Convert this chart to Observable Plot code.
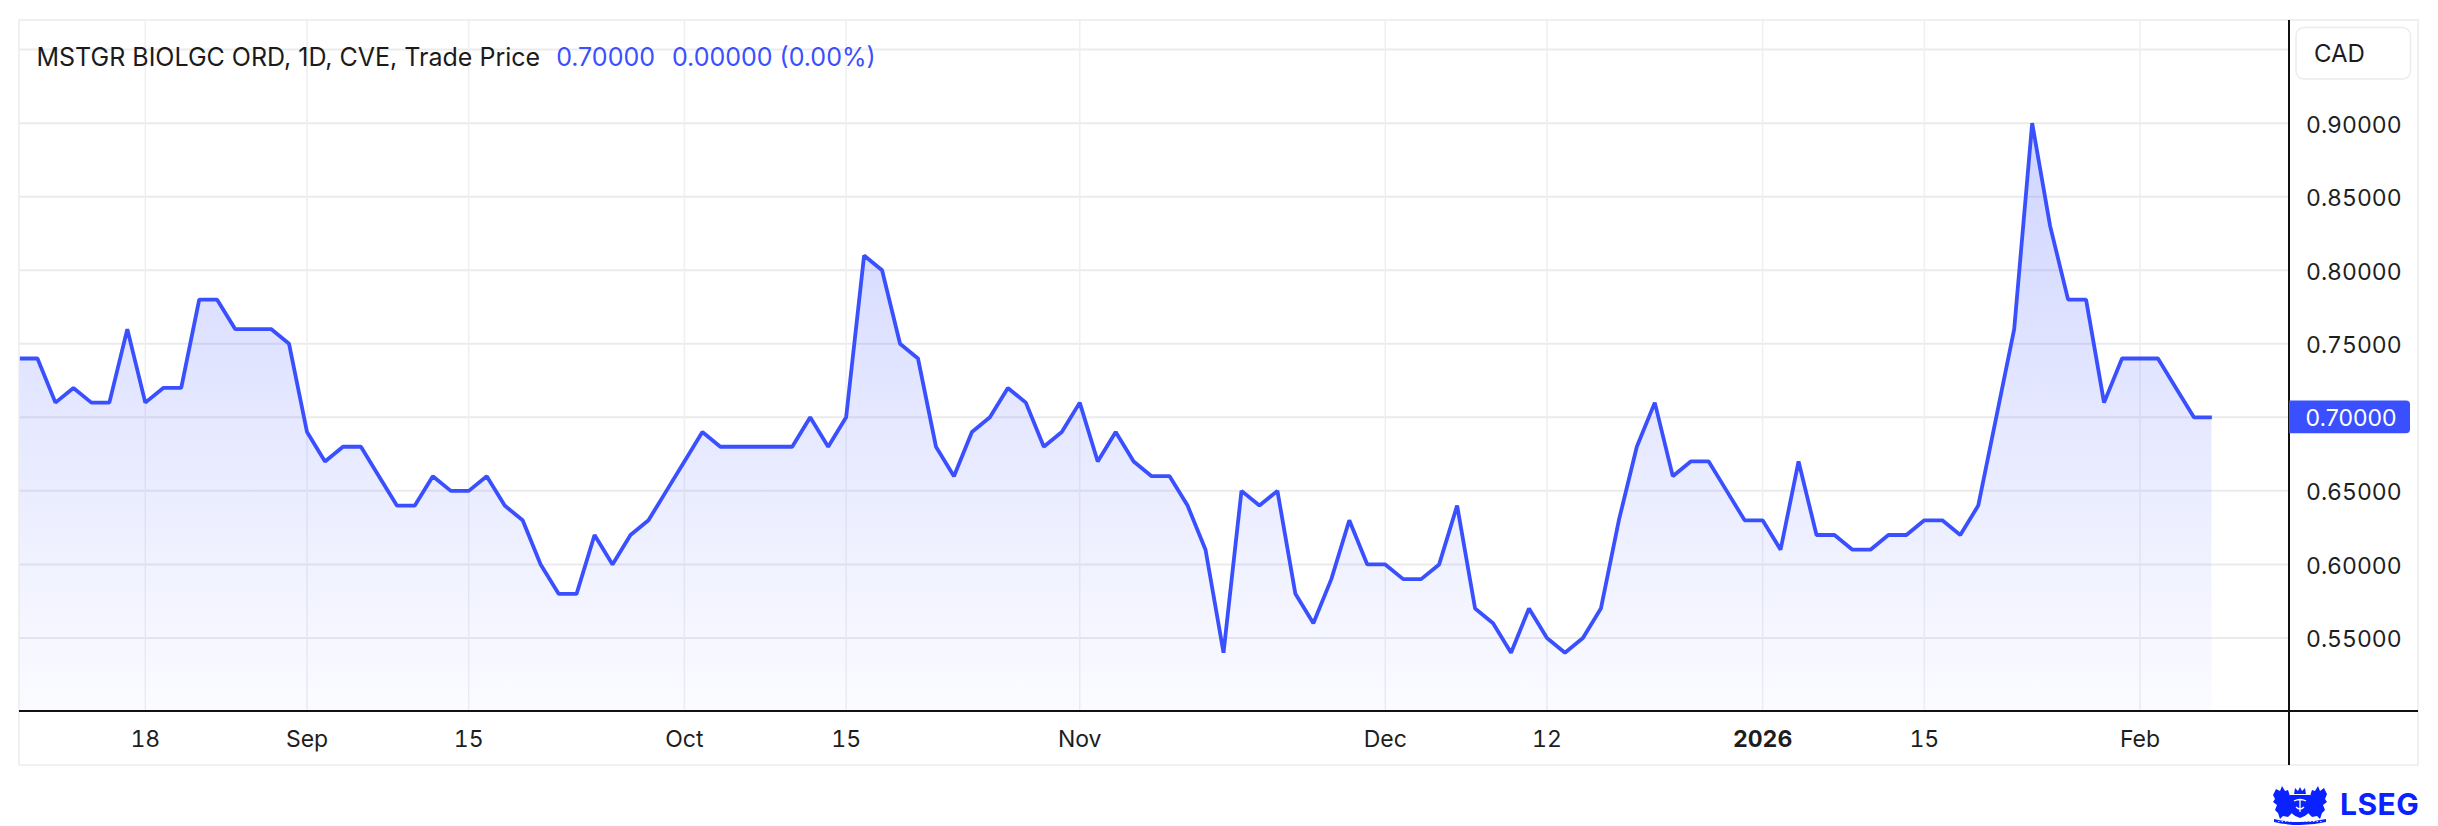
<!DOCTYPE html>
<html>
<head>
<meta charset="utf-8">
<script src="https://cdn.jsdelivr.net/npm/d3@7"></script>
<script src="https://cdn.jsdelivr.net/npm/@observablehq/plot@0.6"></script>
<style>
  html, body { margin: 0; padding: 0; background: #ffffff; overflow: hidden; }
  #chart { width: 2438px; height: 826px; }
</style>
</head>
<body>
<div id="chart"></div>
<script>
// ---- Data (daily closes, one per trading session) ----
const prices = [
  0.74, 0.74, 0.71, 0.72, 0.71, 0.71, 0.76, 0.71, 0.72, 0.72,
  0.78, 0.78, 0.76, 0.76, 0.76, 0.75, 0.69, 0.67, 0.68, 0.68,
  0.66, 0.64, 0.64, 0.66, 0.65, 0.65, 0.66, 0.64, 0.63, 0.60,
  0.58, 0.58, 0.62, 0.60, 0.62, 0.63, 0.65, 0.67, 0.69, 0.68,
  0.68, 0.68, 0.68, 0.68, 0.70, 0.68, 0.70, 0.81, 0.80, 0.75,
  0.74, 0.68, 0.66, 0.69, 0.70, 0.72, 0.71, 0.68, 0.69, 0.71,
  0.67, 0.69, 0.67, 0.66, 0.66, 0.64, 0.61, 0.54, 0.65, 0.64,
  0.65, 0.58, 0.56, 0.59, 0.63, 0.60, 0.60, 0.59, 0.59, 0.60,
  0.64, 0.57, 0.56, 0.54, 0.57, 0.55, 0.54, 0.55, 0.57, 0.63,
  0.68, 0.71, 0.66, 0.67, 0.67, 0.65, 0.63, 0.63, 0.61, 0.67,
  0.62, 0.62, 0.61, 0.61, 0.62, 0.62, 0.63, 0.63, 0.62, 0.64,
  0.70, 0.76, 0.90, 0.83, 0.78, 0.78, 0.71, 0.74, 0.74, 0.74,
  0.72, 0.70, 0.70
];
// session index at which each date label sits
const tickSessions = [7, 16, 25, 37, 46, 59, 76, 85, 97, 106, 118];
const tickLabels   = ["18", "Sep", "15", "Oct", "15", "Nov", "Dec", "12", "2026", "15", "Feb"];
const boldLabels   = ["2026"];
const yTicks = [0.55, 0.60, 0.65, 0.70, 0.75, 0.80, 0.85, 0.90];
const yGrid  = [0.55, 0.60, 0.65, 0.70, 0.75, 0.80, 0.85, 0.90, 0.95];
const titleText = "MSTGR BIOLGC ORD, 1D, CVE, Trade Price";
const lastPriceText = "0.70000";
const changeText = "0.00000";
const changePctText = "(0.00%)";
const currencyText = "CAD";
const brandText = "LSEG";

// ---- Build ----
const data = prices.map((price, session) => ({session, price}));
const lastPrice = prices[prices.length - 1];
const labelOf = new Map(tickSessions.map((s, k) => [s, tickLabels[k]]));
const normalTicks = tickSessions.filter(s => !boldLabels.includes(labelOf.get(s)));
const boldTicks = tickSessions.filter(s => boldLabels.includes(labelOf.get(s)));
// the last-price badge covers its own tick label
const axisTicks = yTicks.filter(v => Math.abs(v - lastPrice) > 1e-9);
const blue = "#3a50ff";
const W = 2438, H = 826;
const mL = 19, mR = 149, mT = 20, mB = 115;
const font = "Inter, 'Noto Sans', sans-serif";

const plot = Plot.plot({
  width: W, height: H,
  marginLeft: mL, marginRight: mR, marginTop: mT, marginBottom: mB,
  style: {fontFamily: font, fontSize: "23px", color: "#1e1e1e", background: "#ffffff", overflow: "visible"},
  x: {type: "linear", domain: [0, 126.32], axis: null},
  y: {domain: [0.50, 0.9698], axis: null},
  marks: [
    Plot.gridY(yGrid, {stroke: "#ebebeb", strokeOpacity: 1, strokeWidth: 2}),
    Plot.gridX(tickSessions, {stroke: "#efeff1", strokeOpacity: 1, strokeWidth: 1.5}),
    Plot.areaY(data, {x: "session", y: "price", fill: "url(#priceFill)", clip: true}),
    Plot.lineY(data, {x: "session", y: "price", stroke: blue, strokeWidth: 3.8, strokeLinejoin: "miter", strokeLinecap: "butt"}),
    Plot.axisX(normalTicks, {anchor: "bottom", tickSize: 0, tickPadding: 19.5, tickFormat: d => labelOf.get(d), label: null, fontSize: 23}),
    Plot.axisX(boldTicks, {anchor: "bottom", tickSize: 0, tickPadding: 19.5, tickFormat: d => labelOf.get(d), label: null, fontSize: 23, fontWeight: "bold"}),
    Plot.axisY(axisTicks, {anchor: "right", tickSize: 0, tickPadding: 16.5, tickFormat: d3.format(".5f"), label: null, fontSize: 23, dy: 2})
  ]
});
document.getElementById("chart").appendChild(plot);

const svg = d3.select(plot);
const ys = plot.scale("y");
const plotRight = W - mR, plotBottom = H - mB;

// gradient for the area
const defs = svg.insert("defs", ":first-child");
const grad = defs.append("linearGradient").attr("id", "priceFill")
  .attr("gradientUnits", "userSpaceOnUse")
  .attr("x1", 0).attr("x2", 0)
  .attr("y1", ys.apply(ys.domain[1])).attr("y2", ys.apply(ys.domain[0]));
grad.append("stop").attr("offset", 0).attr("stop-color", blue).attr("stop-opacity", 0.28);
grad.append("stop").attr("offset", 1).attr("stop-color", blue).attr("stop-opacity", 0.02);

const deco = svg.append("g").attr("text-anchor", "start").attr("font-family", font);
// outer light frame
deco.append("rect").attr("x", mL).attr("y", mT).attr("width", 2418 - mL).attr("height", 765 - mT)
  .attr("fill", "none").attr("stroke", "#ececec").attr("stroke-width", 1.5);
// axis lines
deco.append("line").attr("x1", mL).attr("x2", 2418).attr("y1", plotBottom).attr("y2", plotBottom)
  .attr("stroke", "#111").attr("stroke-width", 2);
deco.append("line").attr("x1", plotRight).attr("x2", plotRight).attr("y1", mT).attr("y2", 765)
  .attr("stroke", "#111").attr("stroke-width", 2);

// title
const t = deco.append("text").attr("x", 36.5).attr("y", 65.5).attr("text-anchor", "start")
  .attr("font-size", 25).attr("fill", "#1b1b1b");
t.append("tspan").text(titleText);
t.append("tspan").attr("dx", 16).attr("fill", blue).text(lastPriceText);
t.append("tspan").attr("dx", 17).attr("fill", blue).text(changeText + " " + changePctText);

// currency box
deco.append("rect").attr("x", 2296).attr("y", 27.5).attr("width", 114.5).attr("height", 51.5).attr("rx", 8)
  .attr("fill", "#fff").attr("stroke", "#ececec").attr("stroke-width", 1.5);
deco.append("text").attr("x", 2314).attr("y", 62.3).attr("text-anchor", "start")
  .attr("font-size", 24).attr("fill", "#1b1b1b").text(currencyText);

// last price label
const yLast = ys.apply(lastPrice);
deco.append("path")
  .attr("d", `M${plotRight},${yLast - 16.3}H${2406}a4,4 0 0 1 4,4V${yLast + 12.3}a4,4 0 0 1 -4,4H${plotRight}Z`)
  .attr("fill", blue);
deco.append("text").attr("x", plotRight + 16.5).attr("y", yLast + 2).attr("dy", "0.32em").attr("text-anchor", "start")
  .attr("font-size", 23).attr("fill", "#fff").text(lastPriceText);

// brand mark (simplified crest + wordmark)
const logoBlue = "#0a22ff";
const crest = deco.append("g").attr("transform", "translate(2272,786)").attr("fill", logoBlue);
crest.append("path").attr("d", "M1,9 L4,3 L8,5 L10,0 L13,5 L16,4 L18,10 L20,12 L20,27 L16,31 L11,30 L8,33 L6,27 L3,24 L5,19 L1,16 L3,13 Z");
crest.append("path").attr("d", "M55,8 L52,2 L48,5 L46,0 L43,5 L40,4 L38,10 L36,12 L36,27 L40,31 L45,30 L48,33 L50,27 L53,24 L51,19 L55,16 L53,13 Z");
crest.append("path").attr("d", "M18,9 L38,9 L38,22 Q38,29 28,32 Q18,29 18,22 Z");
crest.append("path").attr("d", "M22,8 L23,2 L26,5 L28,1 L30,5 L33,2 L34,8 Z");
crest.append("path").attr("d", "M22,15 Q28,12 34,15 M24,21 Q28,25 32,21 M28,14 L28,26")
  .attr("fill", "none").attr("stroke", "#fff").attr("stroke-width", 1.3);
crest.append("path").attr("d", "M2,33 Q28,39 54,33 L54,36 Q28,42 2,36 Z");
crest.append("path").attr("d", "M6,35.5 L50,35.5").attr("fill", "none").attr("stroke", "#fff").attr("stroke-width", 0.8).attr("stroke-dasharray", "1.5 2");
deco.append("text").attr("x", 2340).attr("y", 815).attr("text-anchor", "start")
  .attr("font-weight", "bold").attr("font-size", 30)
  .attr("letter-spacing", 0.5).attr("fill", logoBlue).text(brandText);
</script>
</body>
</html>
